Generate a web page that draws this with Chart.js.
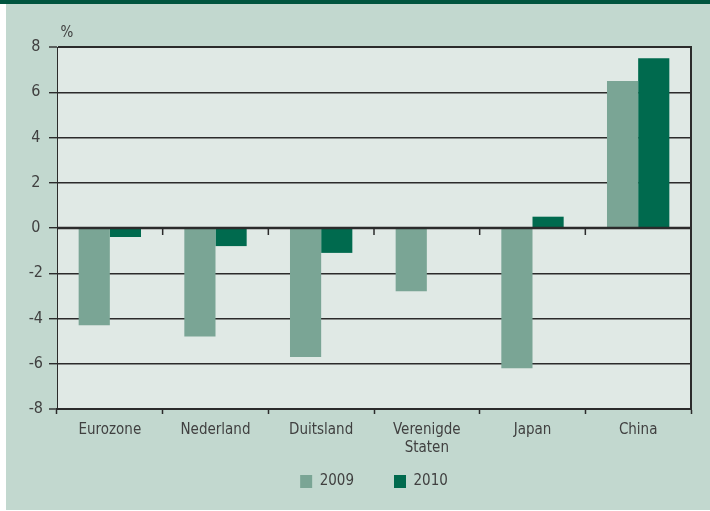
<!DOCTYPE html>
<html><head><meta charset="utf-8">
<script src="https://cdn.jsdelivr.net/npm/chart.js@4/dist/chart.umd.min.js"></script>
<style>html,body{margin:0;padding:0;background:#fff}</style>
</head><body>
<canvas id="c" width="710" height="511"></canvas>
<script>
const categories = ['Eurozone', 'Nederland', 'Duitsland', ['Verenigde', 'Staten'], 'Japan', 'China'];
const values2009 = [-4.3, -4.8, -5.7, -2.8, -6.2, 6.5];
const values2010 = [-0.4, -0.8, -1.1, null, 0.5, 7.5];
const seriesLabels = ['2009', '2010'];
const yMin = -8, yMax = 8, yStep = 2;
const unitLabel = '%';

const FONT = "'Liberation Sans Narrow', 'DejaVu Sans Condensed', 'Arial Narrow', sans-serif";
const DARK = '#2b2b2b';
const TXT = '#404040';

const decor = {
  id: 'decor',
  beforeDraw(chart) {
    const c = chart.ctx, a = chart.chartArea;
    c.save();
    c.fillStyle = '#ffffff'; c.fillRect(0, 0, 710, 511);
    c.fillStyle = '#c2d8cf'; c.fillRect(6, 4, 704, 506);
    c.fillStyle = '#00553f'; c.fillRect(0, 0, 710, 4);
    c.fillStyle = '#e0e9e5'; c.fillRect(a.left, a.top, a.right - a.left, a.bottom - a.top);
    c.restore();
  },
  afterDatasetsDraw(chart) {
    const c = chart.ctx, a = chart.chartArea;
    const y = chart.scales.y, x = chart.scales.x;
    const y0 = y.getPixelForValue(0);
    c.save();
    c.strokeStyle = DARK;
    c.lineWidth = 2.5;
    c.beginPath(); c.moveTo(a.left, y0); c.lineTo(a.right, y0); c.stroke();
    c.lineWidth = 1.5;
    for (let i = 1; i < categories.length; i++) {
      const xb = (x.getPixelForValue(i - 1) + x.getPixelForValue(i)) / 2;
      c.beginPath(); c.moveTo(xb, y0); c.lineTo(xb, y0 + 7); c.stroke();
    }
    c.lineWidth = 2;
    c.beginPath(); c.moveTo(a.right, a.top - 1); c.lineTo(a.right, a.bottom + 1); c.stroke();
    c.fillStyle = TXT;
    c.font = "15px " + FONT;
    c.textAlign = 'center'; c.textBaseline = 'middle';
    c.fillText(unitLabel, a.left + 10, a.top - 14);
    c.restore();
  }
};

new Chart(document.getElementById('c'), {
  type: 'bar',
  data: {
    labels: categories,
    datasets: [
      { label: seriesLabels[0], data: values2009, backgroundColor: '#7aa595', borderWidth: 0 },
      { label: seriesLabels[1], data: values2010, backgroundColor: '#006a4e', borderWidth: 0 }
    ]
  },
  options: {
    responsive: false,
    animation: false,
    devicePixelRatio: 1,
    layout: { padding: { left: 0, right: 19, top: 47, bottom: 12 } },
    datasets: { bar: { categoryPercentage: 0.59, barPercentage: 1.0 } },
    plugins: {
      tooltip: { enabled: false },
      legend: {
        position: 'bottom',
        fullSize: false,
        title: { display: true, text: '', font: { size: 10, lineHeight: 1.2 }, padding: { top: -21.5, bottom: -21.5 } },
        labels: {
          boxWidth: 12, boxHeight: 13, padding: 40,
          color: TXT, font: { family: FONT, size: 15 }
        }
      }
    },
    scales: {
      x: {
        afterFit(s) { s.height = 56; },
        grid: { drawOnChartArea: false, drawTicks: true, tickLength: 5, tickColor: DARK, tickWidth: 1.5, offset: true },
        border: { display: true, color: DARK, width: 2 },
        ticks: { color: TXT, font: { family: FONT, size: 15, lineHeight: 1.2 }, padding: 7, maxRotation: 0, autoSkip: false }
      },
      y: {
        min: yMin, max: yMax,
        afterFit(s) { s.width = 57; },
        grid: {
          color: DARK,
          lineWidth: (ctx) => (ctx.tick && (ctx.tick.value === yMax || ctx.tick.value === yMin)) ? 2 : 1.4,
          drawTicks: true, tickLength: 8, tickColor: DARK, tickWidth: 1.4
        },
        border: { display: true, color: DARK, width: 1 },
        ticks: { stepSize: yStep, color: TXT, font: { family: FONT, size: 16 }, padding: 6, crossAlign: 'center' }
      }
    }
  },
  plugins: [decor]
});
</script>
</body></html>
